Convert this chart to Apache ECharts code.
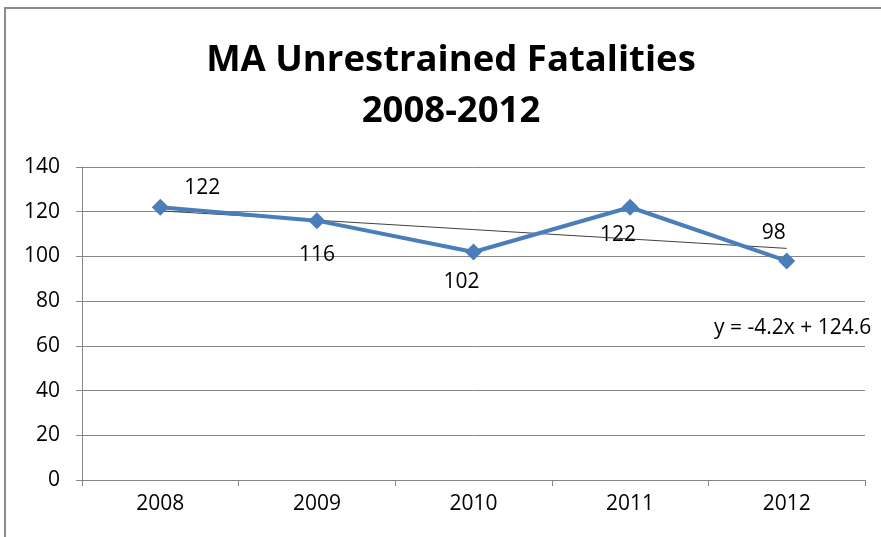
<!DOCTYPE html>
<html><head><meta charset="utf-8">
<script src="https://cdn.jsdelivr.net/npm/echarts@6/dist/echarts.min.js"></script>
<style>html,body{margin:0;padding:0;background:#fff}#c{width:881px;height:537px}</style>
</head><body><div id="c"></div>
<script>
const categories = ['2008','2009','2010','2011','2012'];
const fatalities = [122, 116, 102, 122, 98];
const trendSlope = -4.2;
const trendIntercept = 124.6;
const trendLabel = 'y = -4.2x + 124.6';
const yTicks = {min: 0, max: 140, interval: 20};

const trend = categories.map((c, i) => +(trendSlope * (i + 1) + trendIntercept).toFixed(2));
const labelPos = [
  {position: 'top', offset: [42, 5]},
  {position: 'bottom', offset: [0, 10]},
  {position: 'bottom', offset: [-12, 6]},
  {position: 'bottom', offset: [-12, 4]},
  {position: 'top', offset: [-13, -4]}
];
const font = '"Open Sans",sans-serif';
const chart = echarts.init(document.getElementById('c'));
chart.setOption({
  animation: false,
  backgroundColor: '#fff',
  title: {
    text: 'MA Unrestrained Fatalities\n2008-2012',
    left: 446, top: 30, textAlign: 'center',
    textStyle: {fontFamily: font, fontWeight: 'bold', fontSize: 36.5, lineHeight: 51, color: '#000'}
  },
  graphic: [{type: 'rect', shape: {x: 5, y: 8, width: 900, height: 600}, style: {fill: 'none', stroke: '#8c8c8c', lineWidth: 2}, silent: true}],
  grid: {left: 82, right: 16, top: 167, bottom: 57},
  xAxis: {
    type: 'category', data: categories, boundaryGap: true,
    axisLine: {lineStyle: {color: '#868686'}},
    axisTick: {show: true, length: 6, lineStyle: {color: '#868686'}},
    axisLabel: {color: '#000', fontFamily: font, fontSize: 21, margin: 14}
  },
  yAxis: {
    type: 'value', min: yTicks.min, max: yTicks.max, interval: yTicks.interval,
    axisLine: {show: true, lineStyle: {color: '#868686'}},
    axisTick: {show: true, length: 6, lineStyle: {color: '#868686'}},
    axisLabel: {color: '#000', fontFamily: font, fontSize: 21, margin: 22},
    splitLine: {lineStyle: {color: '#868686', width: 1}}
  },
  series: [
    {
      type: 'line', z: 3, symbol: 'circle', symbolSize: 0, showSymbol: true,
      data: trend.map((v, i) => i === trend.length - 1
        ? {value: v, label: {show: true, formatter: trendLabel, position: 'bottom', offset: [6, 64]}}
        : {value: v}),
      itemStyle: {color: '#404040'},
      lineStyle: {color: '#404040', width: 1},
      label: {show: false, color: '#000', fontFamily: font, fontSize: 21}
    },
    {
      type: 'line', data: fatalities.map((v, i) => ({value: v, label: labelPos[i]})), z: 4,
      symbol: 'diamond', symbolSize: 17,
      itemStyle: {color: '#4a7ebb'},
      lineStyle: {color: '#4a7ebb', width: 4},
      label: {show: true, color: '#000', fontFamily: font, fontSize: 21}
    }
  ]
});
</script></body></html>
